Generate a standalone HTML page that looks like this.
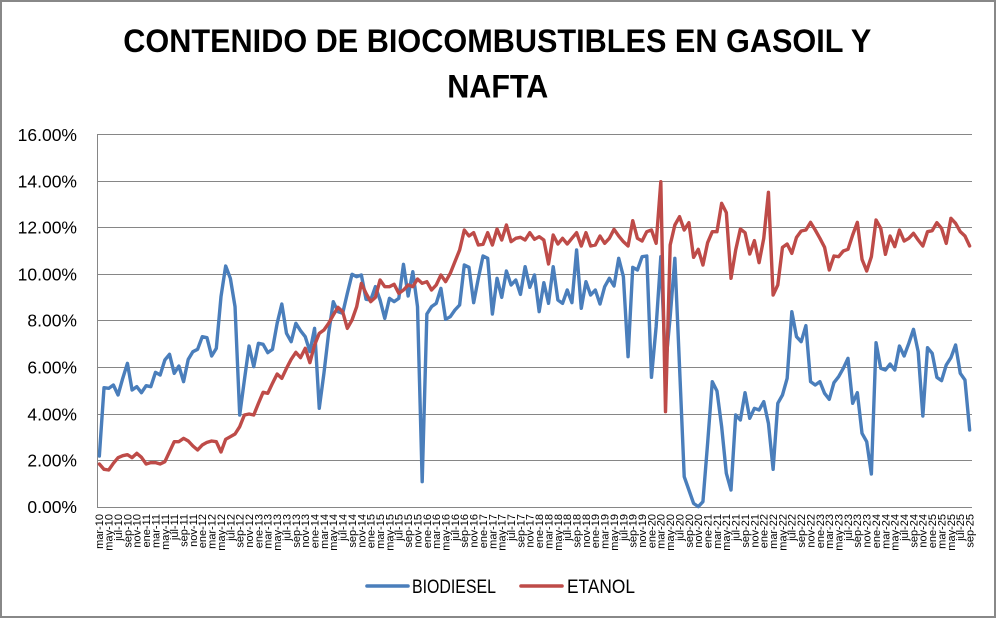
<!DOCTYPE html>
<html><head><meta charset="utf-8"><style>
html,body{margin:0;padding:0;background:#fff;}
svg{display:block;}
text{font-family:"Liberation Sans",Arial,sans-serif;fill:#000;}
</style></head><body>
<svg width="996" height="618" viewBox="0 0 996 618" xmlns="http://www.w3.org/2000/svg">
<rect x="0" y="0" width="996" height="618" fill="#fff"/>
<rect x="1" y="1" width="994" height="616" fill="none" stroke="#888" stroke-width="2"/>
<!-- title -->
<text x="123.3" y="52" font-size="32" font-weight="bold" textLength="748" lengthAdjust="spacingAndGlyphs">CONTENIDO DE BIOCOMBUSTIBLES EN GASOIL Y</text>
<text x="447.3" y="97.4" font-size="32" font-weight="bold" textLength="101" lengthAdjust="spacingAndGlyphs">NAFTA</text>
<!-- gridlines -->
<g stroke="#868686" stroke-width="1" shape-rendering="crispEdges">
<line x1="97" y1="134.5" x2="972" y2="134.5"/>
<line x1="97" y1="181.5" x2="972" y2="181.5"/>
<line x1="97" y1="227.5" x2="972" y2="227.5"/>
<line x1="97" y1="274.5" x2="972" y2="274.5"/>
<line x1="97" y1="320.5" x2="972" y2="320.5"/>
<line x1="97" y1="367.5" x2="972" y2="367.5"/>
<line x1="97" y1="414.5" x2="972" y2="414.5"/>
<line x1="97" y1="460.5" x2="972" y2="460.5"/>
<line x1="97" y1="507.5" x2="972" y2="507.5"/>
<line x1="97.5" y1="134" x2="97.5" y2="508"/>
</g>
<!-- y labels -->
<g font-size="17.5" text-anchor="end">
<text x="77" y="141">16.00%</text>
<text x="77" y="187.5">14.00%</text>
<text x="77" y="233.5">12.00%</text>
<text x="77" y="280.5">10.00%</text>
<text x="77" y="326.5">8.00%</text>
<text x="77" y="373.5">6.00%</text>
<text x="77" y="420.5">4.00%</text>
<text x="77" y="466.5">2.00%</text>
<text x="77" y="513">0.00%</text>
</g>
<!-- series -->
<g transform="translate(99.34,160) scale(4.679,0.333333)" fill="none" stroke-linejoin="round" stroke-linecap="round">
<polyline vector-effect="non-scaling-stroke" stroke="#4a7ebb" stroke-width="3.4" points="0,888 1,683 2,685 3,675 4,705 5,655 6,610 7,690 8,680 9,698 10,677 11,680 12,637 13,645 14,600 15,583 16,640 17,618 18,665 19,598 20,575 21,568 22,530 23,533 24,588 25,565 26,410 27,318 28,355 29,440 30,765 31,660 32,558 33,620 34,550 35,553 36,578 37,568 38,490 39,432 40,520 41,545 42,490 43,512 44,530 45,575 46,505 47,745 48,640 49,520 50,425 51,455 52,460 53,400 54,343 55,350 56,345 57,418 58,420 59,380 60,420 61,475 62,415 63,425 64,415 65,313 66,408 67,335 68,440 69,965 70,462 71,440 72,430 73,385 74,478 75,470 76,450 77,435 78,315 79,322 80,428 81,355 82,288 83,295 84,462 85,355 86,412 87,333 88,375 89,360 90,403 91,320 92,382 93,345 94,455 95,368 96,430 97,320 98,420 99,430 100,390 101,428 102,270 103,445 104,365 105,405 106,390 107,432 108,380 109,355 110,378 111,295 112,350 113,590 114,322 115,330 116,290 117,288 118,652 119,500 120,290 121,620 122,470 123,295 124,620 125,950 126,990 127,1030 128,1040 129,1025 130,850 131,665 132,693 133,800 134,940 135,990 136,765 137,780 138,698 139,775 140,745 141,750 142,725 143,790 144,928 145,730 146,705 147,655 148,455 149,530 150,545 151,497 152,665 153,675 154,665 155,700 156,718 157,668 158,650 159,625 160,595 161,730 162,698 163,820 164,845 165,942 166,548 167,625 168,630 169,612 170,630 171,558 172,588 173,550 174,508 175,575 176,768 177,563 178,580 179,652 180,662 181,615 182,593 183,555 184,640 185,660 186,810"/>
<polyline vector-effect="non-scaling-stroke" stroke="#be4b48" stroke-width="3.4" points="0,912 1,928 2,930 3,910 4,893 5,887 6,884 7,893 8,880 9,892 10,912 11,908 12,908 13,912 14,905 15,875 16,845 17,845 18,835 19,843 20,858 21,870 22,855 23,847 24,843 25,845 26,876 27,838 28,830 29,822 30,800 31,765 32,762 33,765 34,730 35,697 36,700 37,670 38,642 39,655 40,625 41,598 42,577 43,593 44,565 45,608 46,555 47,520 48,510 49,490 50,465 51,442 52,455 53,505 54,480 55,440 56,370 57,400 58,425 59,412 60,360 61,380 62,380 63,373 64,400 65,390 66,375 67,380 68,357 69,370 70,365 71,390 72,375 73,345 74,365 75,340 76,305 77,270 78,210 79,228 80,218 81,255 82,253 83,218 84,255 85,207 86,240 87,195 88,245 89,235 90,232 91,240 92,218 93,238 94,230 95,240 96,312 97,225 98,252 99,235 100,252 101,235 102,218 103,258 104,218 105,258 106,255 107,228 108,250 109,235 110,208 111,228 112,245 113,258 114,182 115,235 116,243 117,215 118,210 119,250 120,65 121,755 122,255 123,195 124,170 125,210 126,188 127,292 128,268 129,315 130,248 131,215 132,215 133,130 134,158 135,355 136,270 137,207 138,218 139,282 140,242 141,308 142,235 143,97 144,405 145,375 146,262 147,252 148,280 149,232 150,213 151,210 152,187 153,210 154,235 155,262 156,330 157,288 158,290 159,273 160,268 161,225 162,187 163,298 164,333 165,290 166,180 167,205 168,283 169,228 170,260 171,210 172,243 173,235 174,220 175,240 176,258 177,215 178,212 179,188 180,205 181,250 182,175 183,190 184,215 185,228 186,258"/>
</g>
<!-- x labels -->
<g transform="rotate(-90)" font-size="11" text-anchor="end">
<text x="-514" y="103.2">mar-10</text>
<text x="-514" y="112.6">may-10</text>
<text x="-514" y="122.0">jul-10</text>
<text x="-514" y="131.3">sep-10</text>
<text x="-514" y="140.7">nov-10</text>
<text x="-514" y="150.0">ene-11</text>
<text x="-514" y="159.4">mar-11</text>
<text x="-514" y="168.8">may-11</text>
<text x="-514" y="178.1">jul-11</text>
<text x="-514" y="187.5">sep-11</text>
<text x="-514" y="196.8">nov-11</text>
<text x="-514" y="206.2">ene-12</text>
<text x="-514" y="215.5">mar-12</text>
<text x="-514" y="224.9">may-12</text>
<text x="-514" y="234.3">jul-12</text>
<text x="-514" y="243.6">sep-12</text>
<text x="-514" y="253.0">nov-12</text>
<text x="-514" y="262.3">ene-13</text>
<text x="-514" y="271.7">mar-13</text>
<text x="-514" y="281.0">may-13</text>
<text x="-514" y="290.4">jul-13</text>
<text x="-514" y="299.8">sep-13</text>
<text x="-514" y="309.1">nov-13</text>
<text x="-514" y="318.5">ene-14</text>
<text x="-514" y="327.8">mar-14</text>
<text x="-514" y="337.2">may-14</text>
<text x="-514" y="346.6">jul-14</text>
<text x="-514" y="355.9">sep-14</text>
<text x="-514" y="365.3">nov-14</text>
<text x="-514" y="374.6">ene-15</text>
<text x="-514" y="384.0">mar-15</text>
<text x="-514" y="393.3">may-15</text>
<text x="-514" y="402.7">jul-15</text>
<text x="-514" y="412.1">sep-15</text>
<text x="-514" y="421.4">nov-15</text>
<text x="-514" y="430.8">ene-16</text>
<text x="-514" y="440.1">mar-16</text>
<text x="-514" y="449.5">may-16</text>
<text x="-514" y="458.8">jul-16</text>
<text x="-514" y="468.2">sep-16</text>
<text x="-514" y="477.6">nov-16</text>
<text x="-514" y="486.9">ene-17</text>
<text x="-514" y="496.3">mar-17</text>
<text x="-514" y="505.6">may-17</text>
<text x="-514" y="515.0">jul-17</text>
<text x="-514" y="524.4">sep-17</text>
<text x="-514" y="533.7">nov-17</text>
<text x="-514" y="543.1">ene-18</text>
<text x="-514" y="552.4">mar-18</text>
<text x="-514" y="561.8">may-18</text>
<text x="-514" y="571.1">jul-18</text>
<text x="-514" y="580.5">sep-18</text>
<text x="-514" y="589.9">nov-18</text>
<text x="-514" y="599.2">ene-19</text>
<text x="-514" y="608.6">mar-19</text>
<text x="-514" y="617.9">may-19</text>
<text x="-514" y="627.3">jul-19</text>
<text x="-514" y="636.6">sep-19</text>
<text x="-514" y="646.0">nov-19</text>
<text x="-514" y="655.4">ene-20</text>
<text x="-514" y="664.7">mar-20</text>
<text x="-514" y="674.1">may-20</text>
<text x="-514" y="683.4">jul-20</text>
<text x="-514" y="692.8">sep-20</text>
<text x="-514" y="702.2">nov-20</text>
<text x="-514" y="711.5">ene-21</text>
<text x="-514" y="720.9">mar-21</text>
<text x="-514" y="730.2">may-21</text>
<text x="-514" y="739.6">jul-21</text>
<text x="-514" y="748.9">sep-21</text>
<text x="-514" y="758.3">nov-21</text>
<text x="-514" y="767.7">ene-22</text>
<text x="-514" y="777.0">mar-22</text>
<text x="-514" y="786.4">may-22</text>
<text x="-514" y="795.7">jul-22</text>
<text x="-514" y="805.1">sep-22</text>
<text x="-514" y="814.4">nov-22</text>
<text x="-514" y="823.8">ene-23</text>
<text x="-514" y="833.2">mar-23</text>
<text x="-514" y="842.5">may-23</text>
<text x="-514" y="851.9">jul-23</text>
<text x="-514" y="861.2">sep-23</text>
<text x="-514" y="870.6">nov-23</text>
<text x="-514" y="880.0">ene-24</text>
<text x="-514" y="889.3">mar-24</text>
<text x="-514" y="898.7">may-24</text>
<text x="-514" y="908.0">jul-24</text>
<text x="-514" y="917.4">sep-24</text>
<text x="-514" y="926.7">nov-24</text>
<text x="-514" y="936.1">ene-25</text>
<text x="-514" y="945.5">mar-25</text>
<text x="-514" y="954.8">may-25</text>
<text x="-514" y="964.2">jul-25</text>
<text x="-514" y="973.5">sep-25</text>
</g>
<!-- legend -->
<line x1="367" y1="586" x2="408" y2="586" stroke="#4a7ebb" stroke-width="3.6" stroke-linecap="round"/>
<text x="412" y="593" font-size="19.5" textLength="84" lengthAdjust="spacingAndGlyphs">BIODIESEL</text>
<line x1="521" y1="586" x2="562" y2="586" stroke="#be4b48" stroke-width="3.6" stroke-linecap="round"/>
<text x="567" y="593" font-size="19.5" textLength="68" lengthAdjust="spacingAndGlyphs">ETANOL</text>
</svg>
</body></html>
